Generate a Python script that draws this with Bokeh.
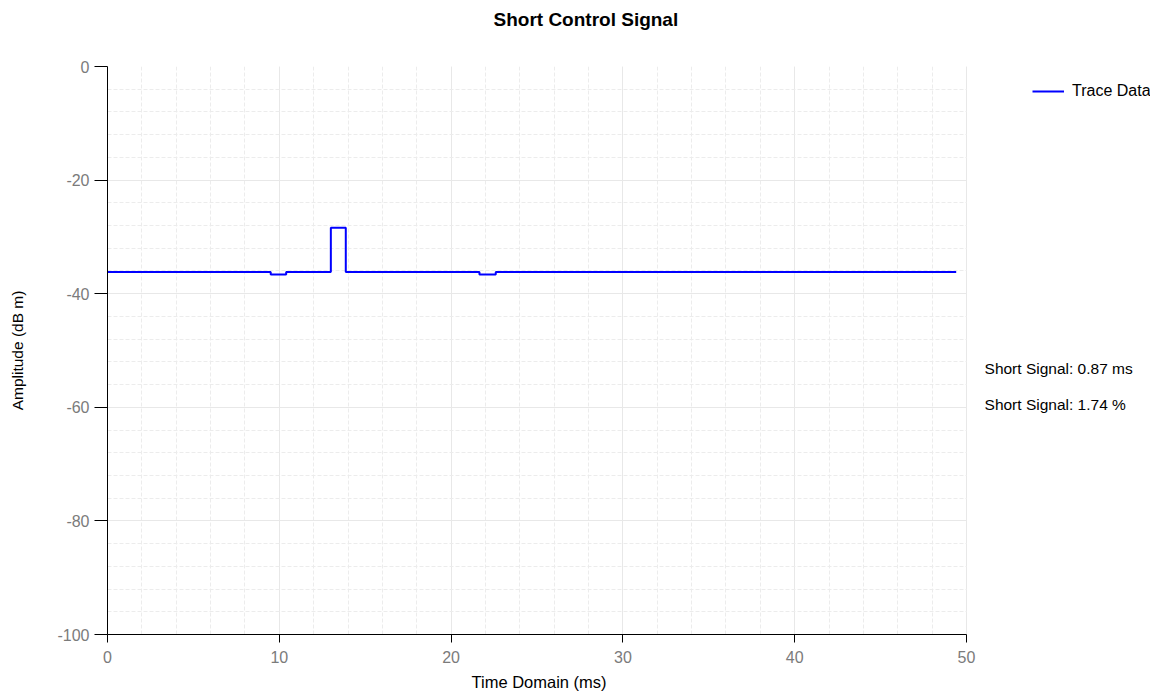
from bokeh.plotting import figure
from bokeh.models import (Range1d, SingleIntervalTicker, Legend, LegendItem, Label,
                          BoxAnnotation, PrintfTickFormatter, Title)
from bokeh.embed import file_html
from bokeh.resources import INLINE

# ---- data ----
edges_ms = [0.0, 9.5, 10.4, 13.0, 13.87, 21.65, 22.6, 49.4]
levels_dbm = [-36.2, -36.6, -36.2, -28.4, -36.2, -36.6, -36.2]
series_name = "Trace Data"
annotations = ["Short Signal: 0.87 ms", "Short Signal: 1.74 %"]
title_text = "Short Control Signal"
x_label = "Time Domain (ms)"
y_label = "Amplitude (dB m)"
x_axis_max = 50
y_axis_min, y_axis_max = -100, 0

# build step coordinates from the segments
xs, ys = [], []
for i, lv in enumerate(levels_dbm):
    xs += [edges_ms[i], edges_ms[i + 1]]
    ys += [lv, lv]

FONT = "Liberation Sans"

# the frame extends to the right so that legend and notes can sit beside the axes
p = figure(width=1150, height=698, output_backend="svg", toolbar_location=None,
           x_range=Range1d(0, 60.71), y_range=Range1d(y_axis_min, y_axis_max),
           min_border_left=107, min_border_right=0, min_border_top=66, min_border_bottom=64)

# spacer between frame and title (title is stacked outside it)
p.add_layout(Title(text=" ", text_font_size="1px", standoff=34), "above")

p.title.text = title_text
p.title.align = "left"
p.title.offset = 386
p.title.standoff = 0
p.title.text_font = FONT
p.title.text_font_size = "19px"
p.title.text_font_style = "bold"
p.title.text_color = "#000000"

p.outline_line_color = None
p.background_fill_color = "white"
p.border_fill_color = "white"

p.xaxis.ticker = SingleIntervalTicker(interval=10, num_minor_ticks=5)
p.yaxis.ticker = SingleIntervalTicker(interval=20, num_minor_ticks=5)
p.xgrid.ticker = p.xaxis.ticker
p.ygrid.ticker = p.yaxis.ticker
p.xaxis.bounds = (0, x_axis_max)
p.xgrid.bounds = (0, x_axis_max)
p.xaxis.formatter = PrintfTickFormatter(format="%d")
p.yaxis.formatter = PrintfTickFormatter(format="%d")

for ax in (p.xaxis, p.yaxis):
    ax.axis_line_color = "#000000"
    ax.axis_line_width = 1
    ax.major_tick_line_color = "#000000"
    ax.major_tick_in = 0
    ax.minor_tick_line_color = None
    ax.major_label_text_font = FONT
    ax.major_label_text_font_size = "16px"
    ax.major_label_text_color = "#7b7b7b"
    ax.axis_label_text_font = FONT
    ax.axis_label_text_font_style = "normal"
    ax.axis_label_text_color = "#000000"

p.xaxis.major_tick_out = 8
p.yaxis.major_tick_out = 13
p.yaxis.axis_label = y_label
p.yaxis.axis_label_text_font_size = "15.5px"
p.xaxis.major_label_standoff = 8
p.yaxis.major_label_standoff = 5
p.yaxis.axis_label_standoff = 28

# x-axis caption centred under the 0..50 span of the axis
p.add_layout(Title(text=x_label, align="left", offset=364, standoff=11,
                   text_font=FONT, text_font_size="16.5px", text_font_style="normal",
                   text_color="#000000"), "below")

for g in (p.xgrid, p.ygrid):
    g.grid_line_color = "#e8e8e8"
    g.grid_line_width = 1
    g.minor_grid_line_color = "#ececec"
    g.minor_grid_line_dash = "4 2"

# white cover to the right of the data area (hides grid there)
p.add_layout(BoxAnnotation(left=x_axis_max + 0.03, fill_color="white", fill_alpha=1,
                           line_color=None, level="underlay"))

r = p.line(xs, ys, line_color="#0000ff", line_width=2)

legend = Legend(items=[LegendItem(label=series_name, renderers=[r])],
                location=(925, 534), border_line_color=None, background_fill_alpha=0,
                label_text_font=FONT, label_text_font_size="16px", label_text_color="#000000",
                glyph_width=32, glyph_height=14, label_standoff=8,
                padding=0, margin=0, spacing=0)
p.add_layout(legend, "center")

for i, t in enumerate(annotations):
    p.add_layout(Label(x=51.05, y=-53.2 - i * 6.3, text=t, text_font=FONT,
                       text_font_size="15.5px", text_color="#000000", text_baseline="middle"))

open("out.html", "w").write(file_html(p, INLINE))
